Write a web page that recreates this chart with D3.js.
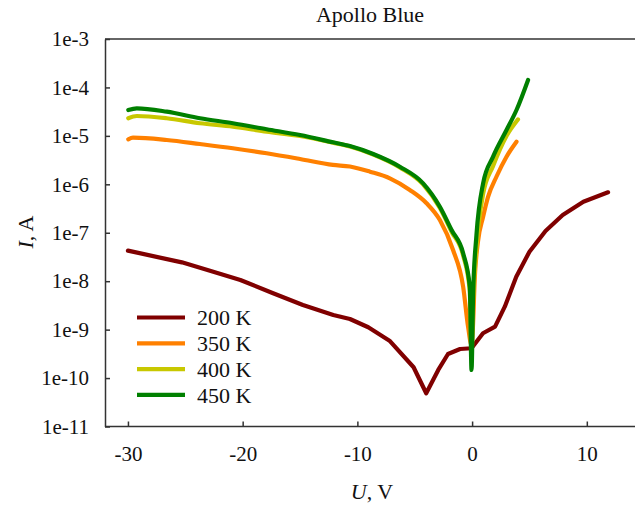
<!DOCTYPE html>
<html>
<head>
<meta charset="utf-8">
<script src="https://cdn.jsdelivr.net/npm/d3@7/dist/d3.min.js"></script>
<style>
  body { margin: 0; background: #fff; }
  svg text, svg tspan { font-family: "Liberation Serif", "Times New Roman", serif !important; fill: #111; }
</style>
</head>
<body>
<svg id="chart" width="635" height="506"></svg>
<script>
// voltage (V) and current (A)
const volt200 = [-30.0, -25.3, -22.85, -20.2, -17.4, -14.75, -12.1, -10.65, -9.05, -7.2, -5.1, -4.0, -2.95, -2.1, -1.05, -0.05, 0.95, 2.0, 2.85, 3.85, 5.0, 6.4, 7.9, 9.7, 11.85];
const cur200 = [4.27e-8, 2.45e-8, 1.65e-8, 1.06e-8, 5.7e-9, 3.23e-9, 2.0e-9, 1.66e-9, 1.12e-9, 5.92e-10, 1.67e-10, 4.85e-11, 1.47e-10, 3.14e-10, 3.98e-10, 4.12e-10, 8.41e-10, 1.15e-9, 2.98e-9, 1.24e-8, 4.06e-8, 1.09e-7, 2.33e-7, 4.38e-7, 6.84e-7];

const volt350 = [-29.97, -29.56, -26.62, -23.72, -20.85, -17.91, -15.0, -12.13, -10.65, -8.9, -7.17, -5.43, -3.97, -2.81, -1.66, -0.78, -0.35, -0.05, 0.06, 0.24, 0.5, 0.96, 1.39, 2.13, 3.0, 3.87];
const cur350 = [8.49e-6, 9.16e-6, 8.22e-6, 6.79e-6, 5.55e-6, 4.37e-6, 3.33e-6, 2.51e-6, 2.33e-6, 1.82e-6, 1.33e-6, 7.64e-7, 4.06e-7, 1.83e-7, 4.41e-8, 7.69e-9, 1.15e-9, 4.82e-10, 1.0e-9, 1.26e-8, 6.3e-8, 2.14e-7, 5.5e-7, 1.45e-6, 3.72e-6, 7.59e-6];

const volt400 = [-29.97, -29.23, -26.62, -23.72, -20.85, -17.91, -15.0, -12.13, -10.65, -8.62, -6.3, -4.27, -2.81, -1.79, -0.78, -0.2, -0.05, 0.09, 0.38, 0.96, 1.83, 3.0, 4.0];
const cur400 = [2.31e-5, 2.57e-5, 2.31e-5, 1.82e-5, 1.55e-5, 1.22e-5, 9.95e-6, 7.24e-6, 6.03e-6, 4.12e-6, 2.24e-6, 1.0e-6, 3.24e-7, 1.05e-7, 3.39e-8, 6.31e-9, 3.16e-10, 3.98e-9, 5.0e-8, 6.31e-7, 2.4e-6, 1.0e-5, 2.19e-5];

const volt450 = [-29.97, -29.23, -26.62, -23.72, -20.85, -17.91, -15.0, -12.13, -10.65, -8.62, -6.3, -4.27, -2.81, -1.79, -0.78, -0.2, -0.05, 0.09, 0.38, 0.96, 1.83, 3.0, 3.87, 4.88];
const cur450 = [3.42e-5, 3.71e-5, 3.16e-5, 2.31e-5, 1.82e-5, 1.37e-5, 1.04e-5, 7.38e-6, 6.18e-6, 4.23e-6, 2.31e-6, 1.05e-6, 3.45e-7, 1.14e-7, 3.77e-8, 7.69e-9, 1.47e-10, 5.62e-9, 8.99e-8, 1.05e-6, 3.72e-6, 1.32e-5, 3.42e-5, 1.43e-4];

const seriesNames = ["200 K", "350 K", "400 K", "450 K"];
const seriesColors = ["#800000", "#ff8000", "#c8c800", "#008000"];

const xTicks = [-30, -20, -10, 0, 10];
const yTicks = [1e-3, 1e-4, 1e-5, 1e-6, 1e-7, 1e-8, 1e-9, 1e-10, 1e-11];
const yTickLabels = ["1e-3", "1e-4", "1e-5", "1e-6", "1e-7", "1e-8", "1e-9", "1e-10", "1e-11"];

const series = [
    { name: seriesNames[0], color: seriesColors[0], v: volt200, i: cur200, curve: d3.curveLinear },
    { name: seriesNames[1], color: seriesColors[1], v: volt350, i: cur350, curve: d3.curveMonotoneX },
    { name: seriesNames[2], color: seriesColors[2], v: volt400, i: cur400, curve: d3.curveMonotoneX },
    { name: seriesNames[3], color: seriesColors[3], v: volt450, i: cur450, curve: d3.curveMonotoneX }
];

const plotLeft = 105, plotRight = 635, plotTop = 39, plotBottom = 426.5;

const svg = d3.select("#chart");

const x = d3.scaleLinear().domain([-32, 14.2]).range([plotLeft, plotRight]);
const y = d3.scaleLog().domain([1e-11, 1e-3]).range([plotBottom, plotTop]);

// frame: top line (plot runs past the right edge)
svg.append("line")
    .attr("x1", plotLeft).attr("x2", plotRight + 10)
    .attr("y1", plotTop).attr("y2", plotTop)
    .attr("stroke", "#333").attr("stroke-width", 1.5);

const yAxis = d3.axisLeft(y)
    .tickValues(yTicks)
    .tickFormat((d, i) => yTickLabels[i])
    .tickSizeInner(-5)
    .tickSizeOuter(0)
    .tickPadding(16);

const xAxis = d3.axisBottom(x)
    .tickValues(xTicks)
    .tickFormat(d => d)
    .tickSizeInner(-5)
    .tickSizeOuter(0)
    .tickPadding(20);

const gy = svg.append("g")
    .attr("transform", `translate(${plotLeft},0)`)
    .call(yAxis);

const gx = svg.append("g")
    .attr("transform", `translate(0,${plotBottom})`)
    .call(xAxis);

[gx, gy].forEach(g => {
    g.attr("font-family", null).attr("font-size", null);
    g.select(".domain").attr("stroke", "#333").attr("stroke-width", 1.5);
    g.selectAll(".tick line").attr("stroke", "#333").attr("stroke-width", 1.5);
    g.selectAll("text")
        .style("font-size", "21px")
        .attr("fill", "#111");
});
gx.select(".domain").attr("d", `M${plotLeft},0H${plotRight + 10}`);

const plot = svg.append("g");

series.forEach(s => {
    const line = d3.line()
        .curve(s.curve)
        .x(d => x(d[0]))
        .y(d => y(d[1]));
    plot.append("path")
        .datum(s.v.map((v, k) => [v, s.i[k]]))
        .attr("d", line)
        .attr("fill", "none")
        .attr("stroke", s.color)
        .attr("stroke-width", 4.2)
        .attr("stroke-linejoin", "round")
        .attr("stroke-linecap", "round");
});

// legend
const legend = svg.append("g");
series.forEach((s, k) => {
    const ly = 317.5 + k * 25.8;
    legend.append("line")
        .attr("x1", 137).attr("x2", 185)
        .attr("y1", ly).attr("y2", ly)
        .attr("stroke", s.color)
        .attr("stroke-width", 4.2);
    legend.append("text")
        .attr("x", 197)
        .attr("y", ly)
        .attr("dy", "0.35em")
        .style("font-size", "22px")
        .text(s.name);
});

// title and axis labels
svg.append("text")
    .attr("x", 370).attr("y", 22)
    .attr("text-anchor", "middle")
    .style("font-size", "22px")
    .text("Apollo Blue");

const xl = svg.append("text")
    .attr("x", 372).attr("y", 499)
    .attr("text-anchor", "middle")
    .style("font-size", "22px");
xl.append("tspan").attr("font-style", "italic").text("U");
xl.append("tspan").text(", V");

const yl = svg.append("text")
    .attr("transform", "translate(33,232) rotate(-90)")
    .attr("text-anchor", "middle")
    .style("font-size", "22px");
yl.append("tspan").attr("font-style", "italic").text("I");
yl.append("tspan").text(", A");
</script>
</body>
</html>
